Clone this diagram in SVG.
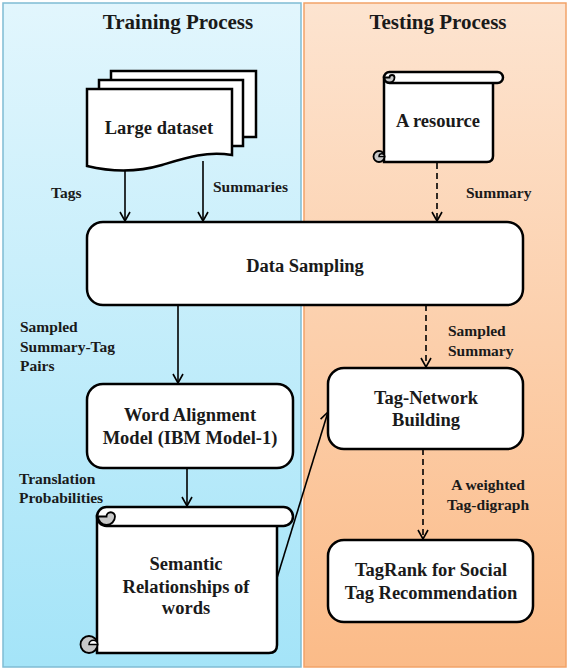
<svg xmlns="http://www.w3.org/2000/svg" width="569" height="670" viewBox="0 0 569 670">
<defs>
<linearGradient id="gBlue" x1="0" y1="0" x2="0" y2="1"><stop offset="0" stop-color="#e2f6fd"/><stop offset="1" stop-color="#a4e4f8"/></linearGradient>
<linearGradient id="gPeach" x1="0" y1="0" x2="0" y2="1"><stop offset="0" stop-color="#fde4d0"/><stop offset="1" stop-color="#fbbb88"/></linearGradient>
<marker id="ar" viewBox="0 0 12 12" refX="11" refY="6" markerWidth="12" markerHeight="12" markerUnits="userSpaceOnUse" orient="auto">
<path d="M2,1 L11,6 L2,11" fill="none" stroke="#000" stroke-width="1.6"/>
</marker>
<style>
.t{font-family:"Liberation Serif","Times New Roman",serif;font-weight:bold;fill:#1a1a1a}
.title{font-size:21px;text-anchor:middle}
.node{font-size:18.5px;text-anchor:middle}
.lbl{font-size:15.5px}
.box{fill:#fff;stroke:#000;stroke-width:2.5}
.gray{fill:#c8c8c8;stroke:#000;stroke-width:1.8}
.wht{fill:#fff;stroke:#000;stroke-width:1.5}
.ln{fill:none;stroke:#000;stroke-width:1.6}
.dash{stroke-dasharray:6,4}
</style>
</defs>
<rect x="3" y="3" width="298" height="664" fill="url(#gBlue)" stroke="#7fbcd4" stroke-width="1.5"/>
<rect x="304" y="3" width="262" height="664" fill="url(#gPeach)" stroke="#f2a368" stroke-width="1.5"/>
<text class="t title" x="178" y="29">Training Process</text>
<text class="t title" x="438" y="29">Testing Process</text>

<g id="connectors">
<line class="ln" x1="125" y1="170" x2="125" y2="221" marker-end="url(#ar)"/>
<line class="ln" x1="203" y1="161" x2="203" y2="221" marker-end="url(#ar)"/>
<line class="ln dash" x1="437" y1="163" x2="437" y2="221" marker-end="url(#ar)"/>
<line class="ln" x1="178" y1="305" x2="178" y2="383" marker-end="url(#ar)"/>
<line class="ln dash" x1="426" y1="305" x2="426" y2="367" marker-end="url(#ar)"/>
<line class="ln" x1="187" y1="468" x2="187" y2="506" marker-end="url(#ar)"/>
<line class="ln" x1="277" y1="578" x2="328" y2="412" marker-end="url(#ar)"/>
<line class="ln dash" x1="423" y1="449" x2="423" y2="539" marker-end="url(#ar)"/>
<text class="t lbl" x="51" y="198">Tags</text>
<text class="t lbl" x="213" y="192">Summaries</text>
<text class="t lbl" x="466" y="198">Summary</text>
<text class="t lbl" x="20" y="332">Sampled</text>
<text class="t lbl" x="20" y="352">Summary-Tag</text>
<text class="t lbl" x="20" y="371">Pairs</text>
<text class="t lbl" x="19" y="484">Translation</text>
<text class="t lbl" x="19" y="503">Probabilities</text>
<text class="t lbl" x="448" y="336">Sampled</text>
<text class="t lbl" x="448" y="356">Summary</text>
<text class="t lbl" x="488" y="490" text-anchor="middle">A weighted</text>
<text class="t lbl" x="488" y="510" text-anchor="middle">Tag-digraph</text>
</g>

<g id="large-dataset">
<rect class="box" x="111" y="71" width="145" height="66"/>
<rect class="box" x="99" y="80" width="144" height="66"/>
<path class="box" d="M87,89 H232 V155 C205,151 185,158 162,165 C138,172 112,172 87,166 Z"/>
<text class="t node" x="159" y="134">Large dataset</text>
</g>

<g id="resource">
<path class="box" d="M384,77 H493 V156 Q493,162 487,162 H384 Z"/>
<rect class="box" x="384" y="72" width="119" height="11" rx="5.5"/>
<path class="gray" d="M384.5,77.5 A5,5 0 0 0 394.5,77.5 A2.5,2.5 0 0 0 389.5,77.5 Z"/>
<circle class="gray" cx="379" cy="156.5" r="5.5"/>
<path class="wht" d="M379,156.5 A2.75,2.75 0 0 1 384.5,156.5 Z"/>
<text class="t node" x="438" y="127">A resource</text>
</g>

<g id="data-sampling">
<rect class="box" x="87" y="222" width="436" height="83" rx="16"/>
<text class="t node" x="305" y="272">Data Sampling</text>
</g>

<g id="word-alignment">
<rect class="box" x="87" y="384" width="206" height="84" rx="16"/>
<text class="t node" x="190" y="421">Word Alignment</text>
<text class="t node" x="190" y="444">Model (IBM Model-1)</text>
</g>

<g id="semantic">
<path class="box" d="M97,516 H277 V645 Q277,653 269,653 H97 Z"/>
<rect class="box" x="97" y="507" width="196" height="19" rx="9.5"/>
<path class="gray" d="M98,516.5 A8.5,8.5 0 0 0 115,516.5 A4.25,4.25 0 0 0 106.5,516.5 Z"/>
<circle class="gray" cx="89" cy="644.5" r="8.5"/>
<path class="wht" d="M89,644.5 A4.25,4.25 0 0 1 97.5,644.5 Z"/>
<text class="t node" x="186" y="570">Semantic</text>
<text class="t node" x="186" y="593">Relationships of</text>
<text class="t node" x="186" y="614">words</text>
</g>

<g id="tag-network">
<rect class="box" x="328" y="368" width="195" height="81" rx="16"/>
<text class="t node" x="426" y="404">Tag-Network</text>
<text class="t node" x="426" y="426">Building</text>
</g>

<g id="tagrank">
<rect class="box" x="328" y="540" width="205" height="82" rx="16"/>
<text class="t node" x="431" y="576">TagRank for Social</text>
<text class="t node" x="431" y="599">Tag Recommendation</text>
</g>
</svg>
